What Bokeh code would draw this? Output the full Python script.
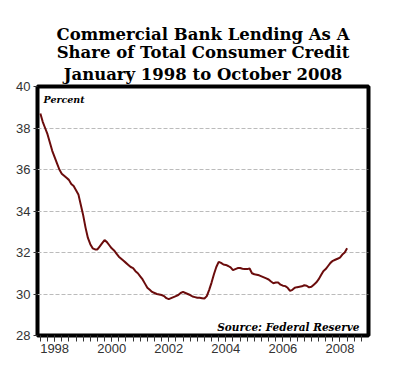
from bokeh.plotting import figure
from bokeh.models import Title, Label, FixedTicker, Range1d
from bokeh.embed import file_html
from bokeh.resources import INLINE

# Monthly share (%) of consumer credit held by commercial banks, Jan 1998 - Oct 2008
start_year = 1998
share = [
    # 1998
    38.7, 38.3, 38.0, 37.7, 37.3, 36.9, 36.6, 36.3, 36.0, 35.8, 35.7, 35.6,
    # 1999
    35.5, 35.3, 35.2, 35.0, 34.8, 34.3, 33.8, 33.2, 32.7, 32.4, 32.2, 32.15,
    # 2000
    32.15, 32.3, 32.45, 32.6, 32.5, 32.35, 32.2, 32.1, 31.95, 31.8, 31.7, 31.6,
    # 2001
    31.5, 31.4, 31.3, 31.25, 31.1, 31.0, 30.85, 30.7, 30.5, 30.3, 30.2, 30.1,
    # 2002
    30.05, 30.0, 29.98, 29.95, 29.9, 29.8, 29.75, 29.8, 29.85, 29.9, 29.95, 30.05,
    # 2003
    30.1, 30.05, 30.0, 29.95, 29.88, 29.85, 29.82, 29.82, 29.8, 29.78, 29.9, 30.2,
    # 2004
    30.55, 30.95, 31.3, 31.55, 31.5, 31.42, 31.4, 31.35, 31.28, 31.15, 31.2, 31.25,
    # 2005
    31.25, 31.22, 31.2, 31.2, 31.23, 31.0, 30.95, 30.93, 30.9, 30.85, 30.8, 30.75,
    # 2006
    30.7, 30.6, 30.52, 30.55, 30.55, 30.45, 30.4, 30.38, 30.3, 30.15, 30.2, 30.3,
    # 2007
    30.33, 30.35, 30.37, 30.42, 30.4, 30.32, 30.35, 30.45, 30.55, 30.7, 30.9, 31.1,
    # 2008
    31.2, 31.35, 31.5, 31.6, 31.65, 31.7, 31.75, 31.9, 32.0, 32.2,
]
months = [start_year + i / 12.0 for i in range(len(share))]

y_ticks = [28, 30, 32, 34, 36, 38, 40]
x_label_years = [1998, 2000, 2002, 2004, 2006, 2008]
title_lines = ["Commercial Bank Lending As A",
               "Share of Total Consumer Credit",
               "January 1998 to October 2008"]

p = figure(width=400, height=377, output_backend="svg", toolbar_location=None,
           x_range=Range1d(1997.9, 2009.5), y_range=Range1d(28, 40),
           min_border_left=37, min_border_right=32, min_border_top=86,
           min_border_bottom=42)
p.background_fill_color = "white"
p.border_fill_color = "white"
p.outline_line_color = "black"
p.outline_line_width = 4

serif = "DejaVu Serif"
for i, t in enumerate(reversed(title_lines)):
    p.add_layout(Title(text=t, align="center", text_font=serif,
                       text_font_style="bold", text_font_size="16.5px",
                       text_color="black", standoff=(5 if i == 0 else -3),
                       offset=0), "above")

p.line(months, share, line_color="#6b0c0c", line_width=2)

# axes
p.yaxis.ticker = FixedTicker(ticks=y_ticks)
p.yaxis.axis_line_color = None
p.yaxis.major_tick_in = 0
p.yaxis.major_tick_out = 4
p.yaxis.major_tick_line_color = "#333333"
p.yaxis.minor_tick_line_color = None
p.yaxis.major_label_text_font = "Liberation Sans"
p.yaxis.major_label_text_font_size = "13px"
p.yaxis.major_label_text_color = "#333333"
p.yaxis.major_label_standoff = 3

quarters = [1998 + q / 4.0 for q in range(0, 46)]
p.xaxis.ticker = FixedTicker(ticks=[y + 0.5 for y in x_label_years], minor_ticks=quarters)
p.xaxis.major_label_overrides = {y + 0.5: str(y) for y in x_label_years}
p.xaxis.axis_line_color = None
p.xaxis.major_tick_in = 0
p.xaxis.major_tick_out = 6
p.xaxis.minor_tick_in = 0
p.xaxis.minor_tick_out = 6
p.xaxis.major_tick_line_color = "#333333"
p.xaxis.minor_tick_line_color = "#333333"
p.xaxis.major_label_text_font = "Liberation Sans"
p.xaxis.major_label_text_font_size = "13px"
p.xaxis.major_label_text_color = "#333333"
p.xaxis.major_label_standoff = 2

p.xgrid.grid_line_color = None
p.ygrid.grid_line_color = "#bbbbbb"
p.ygrid.grid_line_dash = "4 2"
p.ygrid.grid_line_width = 1

p.add_layout(Label(x=6, y=236, x_units="screen", y_units="screen", text="Percent",
                   text_font=serif, text_font_style="bold italic",
                   text_font_size="9.5px", text_color="black",
                   text_baseline="middle"))
p.add_layout(Label(x=322, y=9, x_units="screen", y_units="screen",
                   text="Source: Federal Reserve", text_align="right",
                   text_font=serif, text_font_style="bold italic",
                   text_font_size="10.5px", text_color="black",
                   text_baseline="middle"))

open("out.html", "w").write(file_html(p, INLINE))
